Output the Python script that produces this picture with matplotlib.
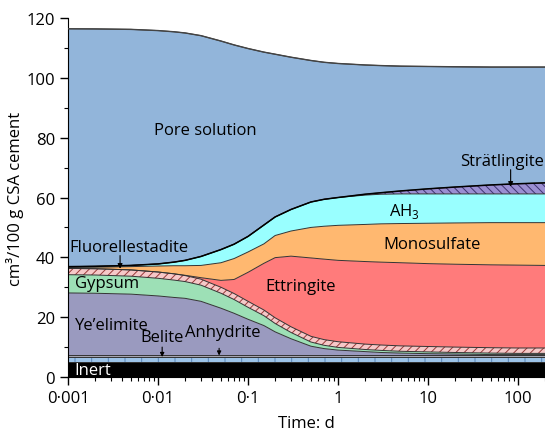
"""Phase assemblage of a hydrating CSA cement paste vs time (stacked volumes)."""

import numpy as np
import matplotlib
matplotlib.use("Agg")
import matplotlib.pyplot as plt
from matplotlib.ticker import FixedLocator, FixedFormatter, LogLocator, NullFormatter, MultipleLocator

plt.rcParams["font.family"] = ["Open Sans", "DejaVu Sans"]
plt.rcParams["mathtext.fontset"] = "custom"
plt.rcParams["mathtext.rm"] = "Open Sans"
plt.rcParams["hatch.linewidth"] = 0.7

# time, d
time_d = [0.001, 0.002, 0.005, 0.01, 0.015, 0.02, 0.03, 0.05, 0.07, 0.1,
          0.15, 0.2, 0.3, 0.5, 0.7, 1, 2, 3, 5, 10, 20, 50, 100, 200]

# phase volumes, cm3 / 100 g CSA cement (bottom to top)
inert = [5.0] * 24
belite = [1.8] * 24
anhydrite = [0.5] * 24
yeelimite = [20.8, 20.7, 20.4, 19.8, 19.3, 19.0, 18.0, 15.7, 14.0, 12.0,
             9.9, 7.8, 5.5, 3.0, 2.2, 1.7, 1.2, 0.9, 0.7, 0.5, 0.4, 0.2, 0.2, 0.2]
gypsum = [6.1, 6.1, 6.0, 5.9, 5.8, 5.6, 5.4, 5.0, 4.6, 4.0,
          3.3, 2.8, 2.1, 1.4, 1.1, 0.9, 0.7, 0.7, 0.6, 0.6, 0.5, 0.5, 0.4, 0.4]
fluorellestadite = [2.1, 2.1, 2.1, 2.1, 2.1, 2.0, 2.0, 2.0, 2.0, 2.0,
                    1.9, 1.9, 1.9, 1.9, 1.9, 1.9, 1.8, 1.8, 1.8, 1.8, 1.8, 1.8, 1.8, 1.8]
ettringite = [0, 0, 0, 0, 0, 0.1, 0.5, 2.3, 4.7, 9.7,
              15.6, 20.1, 23.6, 26.2, 26.9, 27.2, 27.6, 27.7, 27.8, 27.7, 27.7, 27.7, 27.7, 27.6]
monosulfate = [0.3, 0.5, 1.1, 2.0, 2.7, 3.2, 4.1, 5.9, 7.0, 6.8,
               6.5, 7.4, 8.4, 10.2, 11.0, 11.7, 12.4, 12.8, 13.1, 13.5, 13.8, 14.1, 14.2, 14.3]
ah3 = [0.3, 0.3, 0.4, 0.7, 1.2, 1.8, 3.0, 4.4, 4.8, 5.2,
       6.3, 6.2, 7.2, 8.5, 9.0, 9.3, 9.8, 9.9, 9.9, 9.8, 9.7, 9.6, 9.6, 9.6]
stratlingite = [0, 0, 0, 0, 0, 0, 0, 0, 0, 0,
                0, 0, 0, 0, 0, 0, 0.3, 0.5, 1.0, 1.7, 2.3, 3.0, 3.4, 3.7]
pore_solution = [79.5, 79.35, 78.9, 78.0, 77.0, 76.0, 73.8, 69.7, 66.6, 62.8,
                 57.8, 54.4, 50.9, 47.3, 45.8, 44.8, 43.2, 42.5, 41.7, 40.9, 40.2, 39.4, 39.0, 38.7]

# (values, face colour, hatch, hatch colour)
layers = [
    (inert, "#000000", None, None),
    (belite, "#9cc3e8", "|", "#5a86b8"),
    (anhydrite, "#a4a4b0", None, None),
    (yeelimite, "#9a9abf", None, None),
    (gypsum, "#9de0b6", None, None),
    (fluorellestadite, "#f6c8c8", "////", "#9a3a3a"),
    (ettringite, "#ff7b7b", None, None),
    (monosulfate, "#ffb870", None, None),
    (ah3, "#99ffff", None, None),
    (stratlingite, "#9b8fd2", "\\\\\\\\", "#3e3470"),
    (pore_solution, "#92b5da", None, None),
]

t = np.array(time_d)
fig = plt.figure(figsize=(5.45, 4.35), dpi=100)
ax = fig.add_axes([0.125, 0.131, 0.875, 0.8253])

lower = np.zeros_like(t)
for vals, face, hatch, hcol in layers:
    upper = lower + np.array(vals)
    ax.fill_between(t, lower, upper, facecolor=face, lw=0, zorder=1)
    if hatch:
        ax.fill_between(t, lower, upper, facecolor="none", edgecolor=hcol,
                        hatch=hatch, lw=0, zorder=1.5)
    lower = upper
    ax.plot(t, upper, color="#333333", lw=0.7, zorder=2)

# heavier outline between solids and pore solution
solids_top = np.sum([l[0] for l in layers[:-1]], axis=0)
ax.plot(t, solids_top, color="black", lw=1.1, zorder=3)
ax.plot(t, lower, color="#444444", lw=1.0, zorder=3)

fs = 12
arrow = dict(arrowstyle="-|>", color="black", lw=0.8, mutation_scale=7,
             shrinkA=0, shrinkB=0)
ax.text(0.0333, 82.6, "Pore solution", fontsize=fs, ha="center", va="center")
ax.text(193, 72.2, "Strätlingite", fontsize=fs, ha="right", va="center")
ax.annotate("", xy=(83, 63.6), xytext=(83, 69.3), arrowprops=arrow)
ax.text(5.5, 55.5, r"AH$_{\mathregular{3}}$", fontsize=fs, ha="center", va="center")
ax.text(11.1, 44.5, "Monosulfate", fontsize=fs, ha="center", va="center")
ax.text(0.38, 30.4, "Ettringite", fontsize=fs, ha="center", va="center")
ax.text(0.0047, 43.5, "Fluorellestadite", fontsize=fs, ha="center", va="center")
ax.annotate("", xy=(0.00378, 36.2), xytext=(0.00378, 40.6), arrowprops=arrow)
ax.text(0.00118, 31.4, "Gypsum", fontsize=fs, ha="left", va="center")
ax.text(0.00118, 17.5, "Ye\u2019elimite", fontsize=fs, ha="left", va="center")
ax.text(0.0112, 13.4, "Belite", fontsize=fs, ha="center", va="center")
ax.annotate("", xy=(0.0111, 6.7), xytext=(0.0111, 10.0),
            arrowprops=dict(arrow, mutation_scale=6))
ax.text(0.052, 15.0, "Anhydrite", fontsize=fs, ha="center", va="center")
ax.annotate("", xy=(0.0477, 7.2), xytext=(0.0477, 9.6),
            arrowprops=dict(arrow, mutation_scale=6))
ax.text(0.00118, 2.2, "Inert", fontsize=fs, ha="left", va="center", color="white")

ax.set_xscale("log")
ax.set_xlim(0.001, 200)
ax.set_ylim(0, 120)
xt = [0.001, 0.01, 0.1, 1, 10, 100]
xl = ["0\u00b7001", "0\u00b701", "0\u00b71", "1", "10", "100"]
ax.xaxis.set_major_locator(FixedLocator(xt))
ax.xaxis.set_major_formatter(FixedFormatter(xl))
ax.xaxis.set_minor_locator(LogLocator(base=10, subs=np.arange(2, 10)))
ax.xaxis.set_minor_formatter(NullFormatter())
ax.yaxis.set_major_locator(MultipleLocator(20))
ax.yaxis.set_minor_locator(MultipleLocator(10))
ax.tick_params(which="major", length=6, width=1.0, labelsize=fs, direction="out")
ax.tick_params(which="minor", length=3, width=0.8, direction="out")
ax.spines["top"].set_visible(False)
ax.spines["right"].set_visible(False)
ax.set_xlabel("Time: d", fontsize=fs, labelpad=6)
ax.set_ylabel("cm\u00b3/100 g CSA cement", fontsize=fs, labelpad=2)

fig.savefig("out.png", dpi=100)
